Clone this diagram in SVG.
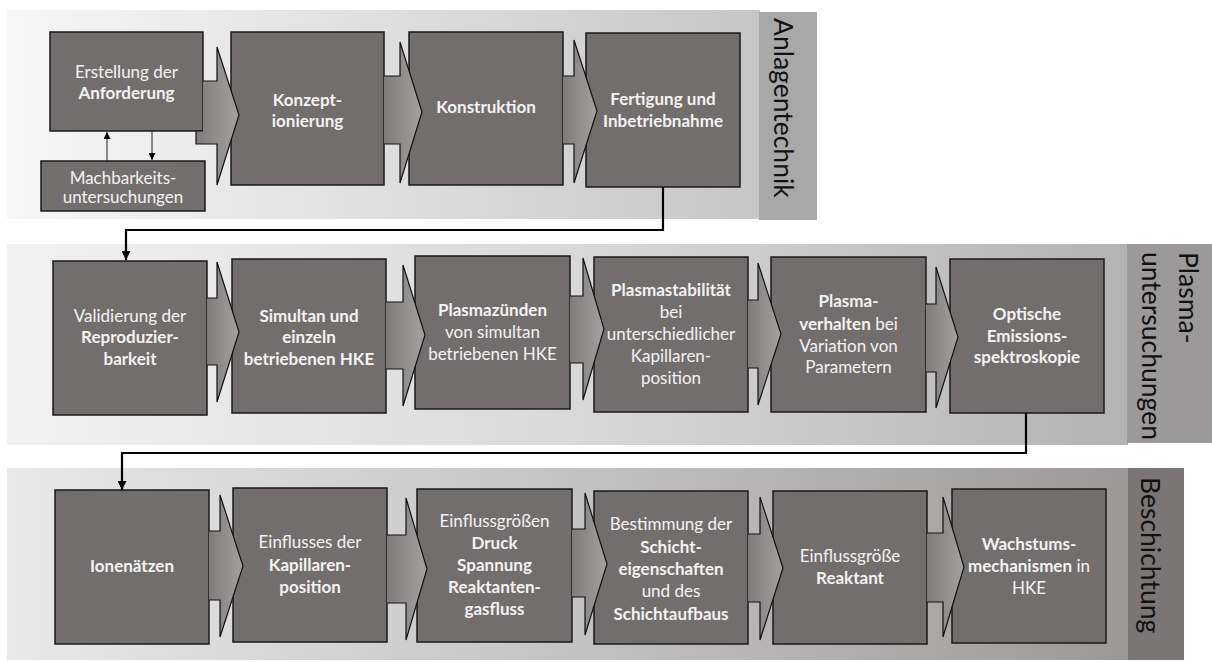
<svg xmlns="http://www.w3.org/2000/svg" width="1212" height="662" viewBox="0 0 1212 662">
<defs>
<linearGradient id="g1" x1="0" y1="0" x2="1" y2="0"><stop offset="0" stop-color="#f7f7f7"/><stop offset="1" stop-color="#c6c6c6"/></linearGradient>
<linearGradient id="g2" x1="0" y1="0" x2="1" y2="0"><stop offset="0" stop-color="#f2f2f2"/><stop offset="0.5" stop-color="#d9d9d9"/><stop offset="1" stop-color="#b3b3b3"/></linearGradient>
<linearGradient id="g3" x1="0" y1="0" x2="1" y2="0"><stop offset="0" stop-color="#e9e9e9"/><stop offset="0.5" stop-color="#c4c3c3"/><stop offset="1" stop-color="#9c9898"/></linearGradient>
<linearGradient id="cg" x1="0" y1="0" x2="1" y2="0"><stop offset="0" stop-color="#7f7b7b"/><stop offset="1" stop-color="#a4a1a1"/></linearGradient>
<marker id="ah" viewBox="0 0 10 10" refX="10" refY="5" markerWidth="9" markerHeight="9" markerUnits="userSpaceOnUse" orient="auto"><path d="M0,0 L10,5 L0,10 z" fill="#000"/></marker>
<marker id="ahs" viewBox="0 0 10 10" refX="10" refY="5" markerWidth="7" markerHeight="7" markerUnits="userSpaceOnUse" orient="auto"><path d="M0,0 L10,5 L0,10 z" fill="#000"/></marker>
</defs>
<style>
.box{fill:#736e6e;stroke:#1a1a1a;stroke-width:1.5}
.t{font-family:Lato,"Open Sans",sans-serif;font-size:17px;fill:#f3f3f3;text-anchor:middle}
.b{font-weight:bold}
.chev{fill:url(#cg);stroke:#111;stroke-width:1.2}
.conn{fill:none;stroke:#000;stroke-width:2.2}
.thin{fill:none;stroke:#222;stroke-width:1}
.lbl{font-family:Lato,"Open Sans",sans-serif;font-size:26.5px;fill:#111}
</style>

<g id="bands">
<rect x="7" y="10" width="753" height="209" fill="url(#g1)"/>
<rect x="759" y="12" width="58" height="208" fill="#a8a8a8"/>
<rect x="7" y="244" width="1121" height="201" fill="url(#g2)"/>
<rect x="1127" y="244" width="85" height="199" fill="#9b9999"/>
<rect x="7" y="468" width="1121" height="192" fill="url(#g3)"/>
<rect x="1128" y="468" width="56" height="192" fill="#7b7575"/>
<text class="lbl" transform="translate(774,18) rotate(90)">Anlagentechnik</text>
<text class="lbl" transform="translate(1179,252) rotate(90)">Plasma-</text>
<text class="lbl" transform="translate(1142,252) rotate(90)">untersuchungen</text>
<text class="lbl" transform="translate(1141,477) rotate(90)">Beschichtung</text>
</g>

<g id="n-anforderung"><rect class="box" x="50" y="32" width="153" height="99"/>
<text class="t" x="126.5" y="78">Erstellung der</text><text class="t b" x="126.5" y="99">Anforderung</text></g>
<g id="n-machbarkeit"><rect class="box" x="41" y="161" width="164" height="50"/>
<text class="t" x="123" y="184">Machbarkeits-</text><text class="t" x="123" y="203">untersuchungen</text></g>
<g id="n-konzept"><rect class="box" x="231" y="32" width="153" height="153"/>
<text class="t b" x="307.5" y="106">Konzept-</text><text class="t b" x="307.5" y="127">ionierung</text></g>
<g id="n-konstruktion"><rect class="box" x="409" y="32" width="154" height="153"/>
<text class="t b" x="486" y="113">Konstruktion</text></g>
<g id="n-fertigung"><rect class="box" x="586" y="33" width="154" height="154"/>
<text class="t b" x="663" y="105">Fertigung und</text><text class="t b" x="663" y="127">Inbetriebnahme</text></g>

<g id="n-validierung"><rect class="box" x="53" y="261" width="154" height="154"/>
<text class="t" x="130" y="322">Validierung der</text><text class="t b" x="130" y="343">Reproduzier-</text><text class="t b" x="130" y="365">barkeit</text></g>
<g id="n-simultan"><rect class="box" x="232" y="259" width="154" height="154"/>
<text class="t b" x="309" y="322">Simultan und</text><text class="t b" x="309" y="343">einzeln</text><text class="t b" x="309" y="365">betriebenen HKE</text></g>
<g id="n-plasmazuenden"><rect class="box" x="415" y="256" width="155" height="153"/>
<text class="t b" x="492.5" y="316">Plasmazünden</text><text class="t" x="492.5" y="338">von simultan</text><text class="t" x="492.5" y="360">betriebenen HKE</text></g>
<g id="n-plasmastabilitaet"><rect class="box" x="594" y="257" width="154" height="155"/>
<text class="t b" x="671" y="296">Plasmastabilität</text><text class="t" x="671" y="318">bei</text><text class="t" x="671" y="340">unterschiedlicher</text><text class="t" x="671" y="362">Kapillaren-</text><text class="t" x="671" y="384">position</text></g>
<g id="n-plasmaverhalten"><rect class="box" x="771" y="257" width="155" height="155"/>
<text class="t b" x="848.5" y="307">Plasma-</text><text class="t" x="848.5" y="330"><tspan class="b">verhalten</tspan> bei</text><text class="t" x="848.5" y="352">Variation von</text><text class="t" x="848.5" y="373">Parametern</text></g>
<g id="n-oes"><rect class="box" x="950" y="259" width="154" height="154"/>
<text class="t b" x="1027" y="320">Optische</text><text class="t b" x="1027" y="342">Emissions-</text><text class="t b" x="1027" y="363">spektroskopie</text></g>

<g id="n-ionenaetzen"><rect class="box" x="55" y="490" width="154" height="154"/>
<text class="t b" x="132" y="572">Ionenätzen</text></g>
<g id="n-kapillarenposition"><rect class="box" x="233" y="488" width="154" height="154"/>
<text class="t" x="310" y="548">Einflusses der</text><text class="t b" x="310" y="571">Kapillaren-</text><text class="t b" x="310" y="593">position</text></g>
<g id="n-einflussgroessen"><rect class="box" x="417" y="489" width="155" height="153"/>
<text class="t" x="494.5" y="527">Einflussgrößen</text><text class="t b" x="494.5" y="549">Druck</text><text class="t b" x="494.5" y="571">Spannung</text><text class="t b" x="494.5" y="593">Reaktanten-</text><text class="t b" x="494.5" y="615">gasfluss</text></g>
<g id="n-schicht"><rect class="box" x="594" y="491" width="154" height="153"/>
<text class="t" x="671" y="530">Bestimmung der</text><text class="t b" x="671" y="553">Schicht-</text><text class="t b" x="671" y="575">eigenschaften</text><text class="t" x="671" y="597">und des</text><text class="t b" x="671" y="620">Schichtaufbaus</text></g>
<g id="n-reaktant"><rect class="box" x="773" y="491" width="154" height="153"/>
<text class="t" x="850" y="562">Einflussgröße</text><text class="t b" x="850" y="584">Reaktant</text></g>
<g id="n-wachstum"><rect class="box" x="952" y="489" width="154" height="154"/>
<text class="t b" x="1029" y="550">Wachstums-</text><text class="t" x="1029" y="572"><tspan class="b">mechanismen</tspan> in</text><text class="t" x="1029" y="594">HKE</text></g>

<g id="connectors">
<path class="chev" d="M203,81 H217 V47 L239,115 L217,185 V144 H196 V131 H203"/>
<path class="chev" d="M384,76 H400 V42 L422,112 L400,183 V144 H384"/>
<path class="chev" d="M563,76 H574 V40 L597,111 L574,183 V144 H563"/>
<path class="chev" d="M207,298 H217 V262 L239,332 L217,402 V365 H207"/>
<path class="chev" d="M386,302 H403 V265 L425,335 L403,406 V369 H386"/>
<path class="chev" d="M570,296 H583 V258 L604,329 L583,400 V363 H570"/>
<path class="chev" d="M748,300 H758 V263 L781,334 L758,405 V368 H748"/>
<path class="chev" d="M926,304 H936 V267 L958,337 L936,408 V372 H926"/>
<path class="chev" d="M209,531 H220 V495 L243,566 L220,637 V600 H209"/>
<path class="chev" d="M387,535 H406 V498 L427,569 L406,640 V603 H387"/>
<path class="chev" d="M572,529 H585 V493 L607,564 L585,635 V597 H572"/>
<path class="chev" d="M748,534 H760 V497 L783,568 L760,640 V602 H748"/>
<path class="chev" d="M927,533 H943 V497 L964,567 L943,637 V602 H927"/>
<path class="thin" d="M107,161 V132" marker-end="url(#ahs)"/>
<path class="thin" d="M152,131 V160" marker-end="url(#ahs)"/>
<path class="conn" d="M663,187 V230 H126 V260" marker-end="url(#ah)"/>
<path class="conn" d="M1026,413 V453 H122 V490" marker-end="url(#ah)"/>
</g>
</svg>
